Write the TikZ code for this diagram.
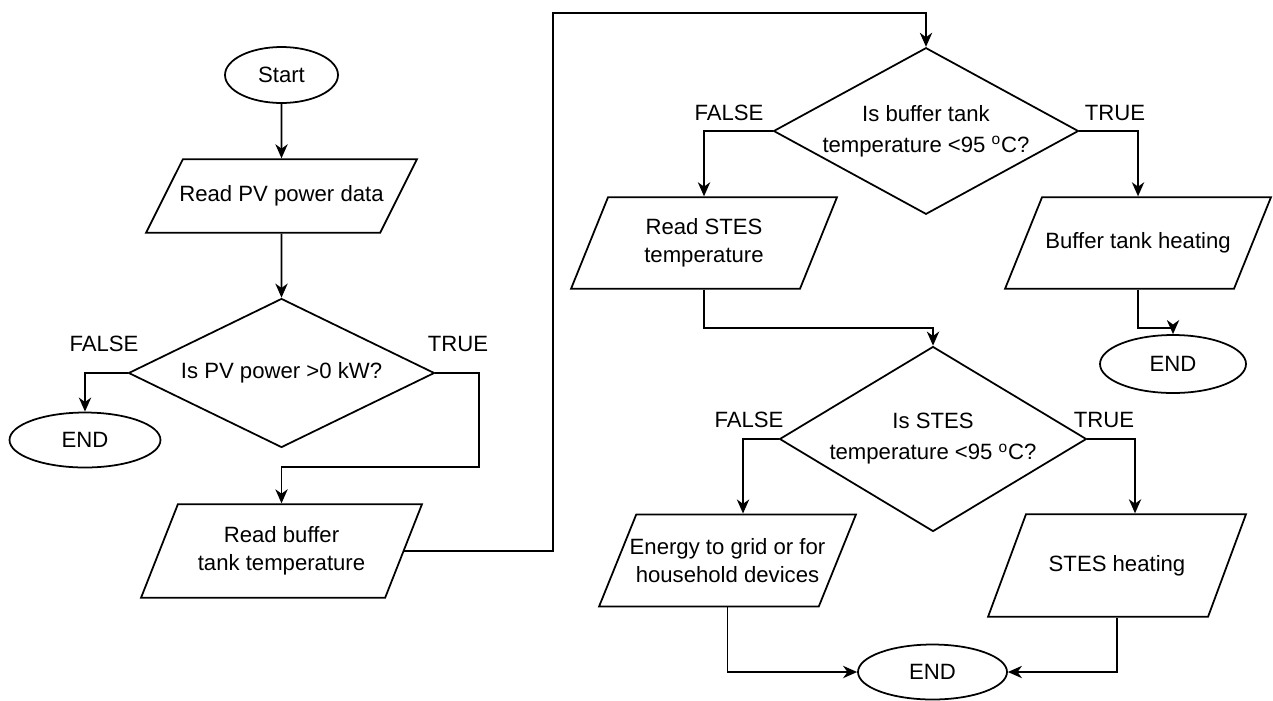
\documentclass[tikz,border=0pt]{standalone}
\usepackage{fontspec}
\setmainfont{Liberation Sans}
\usetikzlibrary{shapes.geometric, arrows.meta}

\tikzset{
  base/.style={draw, line width=1pt, inner sep=0pt, align=center,
    font=\fontsize{12.6pt}{15.9pt}\selectfont},
  terminal/.style={base, ellipse, minimum width=2.98cm, minimum height=1.1cm},
  io/.style={base, trapezium, trapezium left angle=68, trapezium right angle=112,
    trapezium stretches body, inner xsep=-0.3cm},
  decision/.style={base, diamond, aspect=1.8, font=\fontsize{12.6pt}{17.6pt}\selectfont},
  branch/.style={font=\fontsize{12.6pt}{15pt}\selectfont},
  arr/.style={-{Stealth[length=8pt, width=7pt, inset=2.5pt]}, line width=1pt},
}

\begin{document}
\begin{tikzpicture}[x=0.02cm, y=-0.02cm]
\useasboundingbox (0,0) rectangle (1273,700);

% 左の列
\node[terminal, minimum width=2.26cm, minimum height=1.12cm] (start) at (281.5,75) {Start};
\node[io, trapezium left angle=63.4, trapezium right angle=116.6, minimum width=5.42cm, inner ysep=0.53cm] (readpv) at (281.5,196) {Read PV power data};
\node[decision, minimum width=6.12cm, minimum height=2.98cm] (pvcheck) at (281.5,373) {Is PV power >0 kW?};
\node[terminal, minimum width=3.02cm] (endpv) at (85,440) {END};
\node[io, trapezium left angle=68.5, trapezium right angle=111.5, minimum width=5.62cm, inner ysep=0.45cm] (readbuf) at (281.5,551) {Read buffer\\tank temperature};

% 中央と右の列
\node[decision, minimum width=6.1cm, minimum height=3.32cm] (bufcheck) at (926,131) {Is buffer tank\\temperature <95 \textsuperscript{o}C?};
\node[io, minimum width=5.32cm, inner ysep=0.43cm] (readstes) at (704,243) {Read STES\\temperature};
\node[io, minimum width=5.32cm, inner ysep=0.71cm] (bufheat) at (1138,243) {Buffer tank heating};
\node[terminal, minimum width=2.92cm, minimum height=1.16cm] (endbuf) at (1173,364) {END};
\node[decision, minimum width=6.14cm, minimum height=3.7cm] (stescheck) at (933,439) {Is STES\\temperature <95 \textsuperscript{o}C?};
\node[io, minimum width=5.14cm, inner ysep=0.48cm] (grid) at (727.5,560.5) {Energy to grid or for\\household devices};
\node[io, trapezium left angle=69.7, trapezium right angle=110.3, minimum width=5.16cm, inner ysep=0.82cm] (stesheat) at (1117,565.5) {STES heating};
\node[terminal] (endstes) at (932.5,672) {END};

% 分岐ラベル
\node[branch] (pvfalse) at (104,344) {FALSE};
\node[branch] (pvtrue) at (458,344) {TRUE};
\node[branch] (buffalse) at (729,113) {FALSE};
\node[branch] (buftrue) at (1115,113) {TRUE};
\node[branch] (stesfalse) at (749,420) {FALSE};
\node[branch] (stestrue) at (1104,420) {TRUE};

% 矢印
\draw[arr] (start) -- (readpv);
\draw[arr] (readpv) -- (pvcheck);
\draw[arr] (pvcheck.west) -| (endpv.north);
\draw[arr] (pvcheck.east) -| ++(44,94) -| (readbuf.north);
\coordinate (loop) at (553,13);
\draw[arr] (readbuf.east) -| (loop) -| (bufcheck.north);
\draw[arr] (bufcheck.west) -| (readstes.north);
\draw[arr] (bufcheck.east) -| (bufheat.north);
\draw[arr] (bufheat.south) -- ++(0,38) -| (endbuf.north);
\draw[arr] (readstes.south) -- ++(0,38) -| (stescheck.north);
\draw[arr] (stescheck.west) -| ([xshift=0.31cm]grid.north);
\draw[arr] (stescheck.east) -| ([xshift=0.36cm]stesheat.north);
\draw[arr] (grid.south) |- (endstes.west);
\draw[arr] (stesheat.south) |- (endstes.east);
\end{tikzpicture}
\end{document}
